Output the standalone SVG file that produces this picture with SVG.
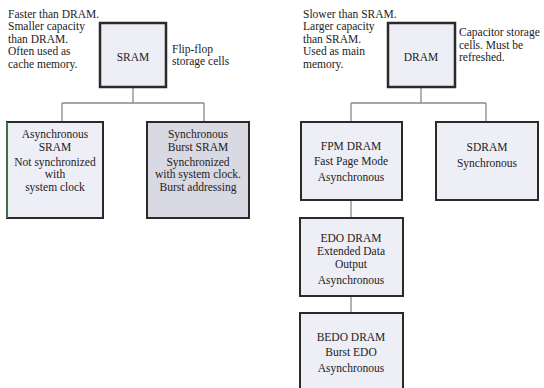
<svg xmlns="http://www.w3.org/2000/svg" width="544" height="388" viewBox="0 0 544 388">
  <style>
    text { font-family: "Liberation Serif", "Times New Roman", serif; font-size: 11.5px; fill: #1c1c1c; }
    .c { text-anchor: middle; }
    .box { fill: #eeeef6; stroke: #2a2a2a; stroke-width: 2; }
    .top { fill: #eeeef6; stroke: #2a2a2a; stroke-width: 2.5; }
    .dark { fill: #d9d9e3; stroke: #2a2a2a; stroke-width: 2; }
    .wire { fill: none; stroke: #8a8a8a; stroke-width: 1.3; }
  </style>
  <rect width="544" height="388" fill="#ffffff"/>

  <!-- connectors -->
  <g id="connectors">
    <path class="wire" d="M133 87 V103 M62 103 H204 M62 103 V122 M204 103 V122"/>
    <path class="wire" d="M421 87 V103 M351 103 H486 M351 103 V122 M486 103 V122"/>
    <path class="wire" d="M351 200 V218 M351 296 V313"/>
  </g>

  <!-- SRAM family -->
  <g id="sram-notes">
    <text x="8" y="17.5">Faster than DRAM.</text>
    <text x="8" y="30">Smaller capacity</text>
    <text x="8" y="42.5">than DRAM.</text>
    <text x="8" y="55">Often used as</text>
    <text x="8" y="67.5">cache memory.</text>
    <text x="172" y="52.5">Flip-flop</text>
    <text x="172" y="65">storage cells</text>
  </g>
  <g id="sram">
    <rect class="top" x="100" y="23" width="66" height="64"/>
    <text class="c" x="133" y="61">SRAM</text>
  </g>
  <g id="async-sram">
    <rect class="box" x="7" y="122" width="96" height="96"/>
    <line x1="7" y1="122" x2="7" y2="218" stroke="#3f6e48" stroke-width="2"/>
    <text class="c" x="55" y="138">Asynchronous</text>
    <text class="c" x="55" y="150.5">SRAM</text>
    <text class="c" x="55" y="165.5">Not synchronized</text>
    <text class="c" x="55" y="178">with</text>
    <text class="c" x="55" y="190.5">system clock</text>
  </g>
  <g id="sync-burst-sram">
    <rect class="dark" x="147" y="122" width="102" height="96"/>
    <text class="c" x="198" y="138">Synchronous</text>
    <text class="c" x="198" y="150.5">Burst SRAM</text>
    <text class="c" x="198" y="165.5">Synchronized</text>
    <text class="c" x="198" y="178">with system clock.</text>
    <text class="c" x="198" y="190.5">Burst addressing</text>
  </g>

  <!-- DRAM family -->
  <g id="dram-notes">
    <text x="303" y="17.5">Slower than SRAM.</text>
    <text x="303" y="30">Larger capacity</text>
    <text x="303" y="42.5">than SRAM.</text>
    <text x="303" y="55">Used as main</text>
    <text x="303" y="67.5">memory.</text>
    <text x="459" y="36">Capacitor storage</text>
    <text x="459" y="48.5">cells. Must be</text>
    <text x="459" y="61">refreshed.</text>
  </g>
  <g id="dram">
    <rect class="top" x="388" y="23" width="67" height="64"/>
    <text class="c" x="421" y="61">DRAM</text>
  </g>
  <g id="fpm-dram">
    <rect class="box" x="301" y="122" width="101" height="78"/>
    <text class="c" x="351" y="150">FPM DRAM</text>
    <text class="c" x="351" y="164.5">Fast Page Mode</text>
    <text class="c" x="351" y="180.5">Asynchronous</text>
  </g>
  <g id="sdram">
    <rect class="box" x="436" y="122" width="102" height="78"/>
    <text class="c" x="487" y="151">SDRAM</text>
    <text class="c" x="487" y="167">Synchronous</text>
  </g>
  <g id="edo-dram">
    <rect class="box" x="300" y="218" width="103" height="78"/>
    <text class="c" x="351" y="241.5">EDO DRAM</text>
    <text class="c" x="351" y="254.5">Extended Data</text>
    <text class="c" x="351" y="267.5">Output</text>
    <text class="c" x="351" y="283.5">Asynchronous</text>
  </g>
  <g id="bedo-dram">
    <rect class="box" x="300" y="313" width="103" height="80"/>
    <text class="c" x="351" y="341">BEDO DRAM</text>
    <text class="c" x="351" y="356">Burst EDO</text>
    <text class="c" x="351" y="372">Asynchronous</text>
  </g>
</svg>
